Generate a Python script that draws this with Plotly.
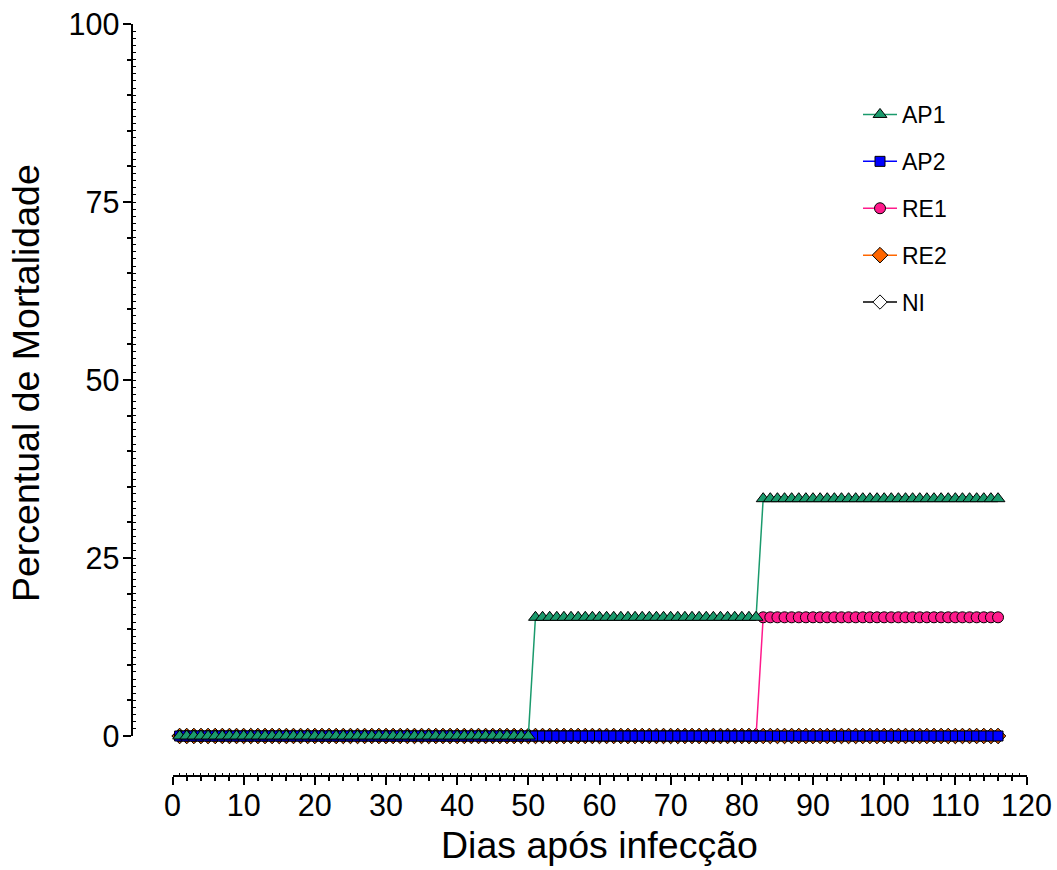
import plotly.graph_objects as go

# ---------------- data ----------------
days = list(range(1, 117))

ap1 = [
    0, 0, 0, 0, 0, 0, 0, 0, 0, 0,
    0, 0, 0, 0, 0, 0, 0, 0, 0, 0,
    0, 0, 0, 0, 0, 0, 0, 0, 0, 0,
    0, 0, 0, 0, 0, 0, 0, 0, 0, 0,
    0, 0, 0, 0, 0, 0, 0, 0, 0, 0,
    16.67, 16.67, 16.67, 16.67, 16.67, 16.67, 16.67, 16.67, 16.67, 16.67,
    16.67, 16.67, 16.67, 16.67, 16.67, 16.67, 16.67, 16.67, 16.67, 16.67,
    16.67, 16.67, 16.67, 16.67, 16.67, 16.67, 16.67, 16.67, 16.67, 16.67,
    16.67, 16.67,
    33.33, 33.33, 33.33, 33.33, 33.33, 33.33, 33.33, 33.33, 33.33, 33.33,
    33.33, 33.33, 33.33, 33.33, 33.33, 33.33, 33.33, 33.33, 33.33, 33.33,
    33.33, 33.33, 33.33, 33.33, 33.33, 33.33, 33.33, 33.33, 33.33, 33.33,
    33.33, 33.33, 33.33, 33.33,
]

ap2 = [
    0, 0, 0, 0, 0, 0, 0, 0, 0, 0,
    0, 0, 0, 0, 0, 0, 0, 0, 0, 0,
    0, 0, 0, 0, 0, 0, 0, 0, 0, 0,
    0, 0, 0, 0, 0, 0, 0, 0, 0, 0,
    0, 0, 0, 0, 0, 0, 0, 0, 0, 0,
    0, 0, 0, 0, 0, 0, 0, 0, 0, 0,
    0, 0, 0, 0, 0, 0, 0, 0, 0, 0,
    0, 0, 0, 0, 0, 0, 0, 0, 0, 0,
    0, 0, 0, 0, 0, 0, 0, 0, 0, 0,
    0, 0, 0, 0, 0, 0, 0, 0, 0, 0,
    0, 0, 0, 0, 0, 0, 0, 0, 0, 0,
    0, 0, 0, 0, 0, 0,
]

re1 = [
    0, 0, 0, 0, 0, 0, 0, 0, 0, 0,
    0, 0, 0, 0, 0, 0, 0, 0, 0, 0,
    0, 0, 0, 0, 0, 0, 0, 0, 0, 0,
    0, 0, 0, 0, 0, 0, 0, 0, 0, 0,
    0, 0, 0, 0, 0, 0, 0, 0, 0, 0,
    0, 0, 0, 0, 0, 0, 0, 0, 0, 0,
    0, 0, 0, 0, 0, 0, 0, 0, 0, 0,
    0, 0, 0, 0, 0, 0, 0, 0, 0, 0,
    0, 0,
    16.67, 16.67, 16.67, 16.67, 16.67, 16.67, 16.67, 16.67, 16.67, 16.67,
    16.67, 16.67, 16.67, 16.67, 16.67, 16.67, 16.67, 16.67, 16.67, 16.67,
    16.67, 16.67, 16.67, 16.67, 16.67, 16.67, 16.67, 16.67, 16.67, 16.67,
    16.67, 16.67, 16.67, 16.67,
]

re2 = [
    0, 0, 0, 0, 0, 0, 0, 0, 0, 0,
    0, 0, 0, 0, 0, 0, 0, 0, 0, 0,
    0, 0, 0, 0, 0, 0, 0, 0, 0, 0,
    0, 0, 0, 0, 0, 0, 0, 0, 0, 0,
    0, 0, 0, 0, 0, 0, 0, 0, 0, 0,
    0, 0, 0, 0, 0, 0, 0, 0, 0, 0,
    0, 0, 0, 0, 0, 0, 0, 0, 0, 0,
    0, 0, 0, 0, 0, 0, 0, 0, 0, 0,
    0, 0, 0, 0, 0, 0, 0, 0, 0, 0,
    0, 0, 0, 0, 0, 0, 0, 0, 0, 0,
    0, 0, 0, 0, 0, 0, 0, 0, 0, 0,
    0, 0, 0, 0, 0, 0,
]

ni = [
    0, 0, 0, 0, 0, 0, 0, 0, 0, 0,
    0, 0, 0, 0, 0, 0, 0, 0, 0, 0,
    0, 0, 0, 0, 0, 0, 0, 0, 0, 0,
    0, 0, 0, 0, 0, 0, 0, 0, 0, 0,
    0, 0, 0, 0, 0, 0, 0, 0, 0, 0,
    0, 0, 0, 0, 0, 0, 0, 0, 0, 0,
    0, 0, 0, 0, 0, 0, 0, 0, 0, 0,
    0, 0, 0, 0, 0, 0, 0, 0, 0, 0,
    0, 0, 0, 0, 0, 0, 0, 0, 0, 0,
    0, 0, 0, 0, 0, 0, 0, 0, 0, 0,
    0, 0, 0, 0, 0, 0, 0, 0, 0, 0,
    0, 0, 0, 0, 0, 0,
]

x_title = "Dias após infecção"
y_title = "Percentual de Mortalidade"

# ---------------- figure ----------------
FONT = "Liberation Sans, Arial, Helvetica, sans-serif"
OFF = 0                      # body margin is removed by the post script
W, H = 1057, 870


def px_x(p):                 # page pixel -> paper fraction (x)
    return (p - OFF) / W


def px_y(p):                 # page pixel -> paper fraction (y)
    return 1 - (p - OFF) / H


series = [  # drawn bottom -> top; rank = legend position
    dict(name="NI", y=ni, symbol="diamond", fill="#ffffff", line="#000000", size=11, rank=5),
    dict(name="RE2", y=re2, symbol="diamond", fill="#ff6600", line="#ff6600", size=12, rank=4),
    dict(name="RE1", y=re1, symbol="circle", fill="#ff1a8c", line="#ff1a8c", size=11, rank=3),
    dict(name="AP2", y=ap2, symbol="square", fill="#0000ff", line="#0000ff", size=10, rank=2),
    dict(name="AP1", y=ap1, symbol="triangle-up", fill="#1a9a6c", line="#1a9a6c", size=12, rank=1),
]

fig = go.Figure()
for s in series:
    fig.add_trace(go.Scatter(
        x=days, y=s["y"], name=s["name"], mode="lines+markers",
        legendgroup=s["name"], legendrank=s["rank"],
        line=dict(color=s["line"], width=1.5),
        marker=dict(symbol=s["symbol"], color=s["fill"], size=s["size"],
                    line=dict(color="#000000", width=1)),
        cliponaxis=False,
    ))

# invisible helper trace for the fine (inner) tick axes
fig.add_trace(go.Scatter(x=[days[0]], y=[ni[0]], xaxis="x2", yaxis="y2",
                         mode="markers", marker=dict(opacity=0),
                         showlegend=False, hoverinfo="skip"))

x_dom = [px_x(172.5), px_x(1026.5)]
y_dom = [px_y(736), px_y(24)]
x_pos = px_y(776)
y_pos = px_x(131.5)

axis_common = dict(showgrid=False, zeroline=False, showline=True,
                   linecolor="black", linewidth=2, tickcolor="black",
                   ticks="outside", tickwidth=2, ticklen=8, automargin=False,
                   ticklabeloverflow="allow",
                   tickfont=dict(family=FONT, size=30.5, color="black"))

fig.update_layout(
    width=W, height=H,
    margin=dict(l=0, r=0, t=0, b=0, autoexpand=False),
    paper_bgcolor="white", plot_bgcolor="white",
    font=dict(family=FONT, color="black"),
    showlegend=True,
    legend=dict(x=px_x(858), y=px_y(93), xanchor="left", yanchor="top",
                traceorder="grouped", tracegroupgap=14, itemwidth=34,
                font=dict(family=FONT, size=23, color="black"),
                bgcolor="rgba(0,0,0,0)"),
    xaxis=dict(**axis_common, domain=x_dom, range=[0, 120], anchor="free",
               position=x_pos, tick0=0, dtick=10, ticklabelstandoff=-6,
               minor=dict(ticks="outside", dtick=2, tick0=0, ticklen=4,
                          tickwidth=1.5, tickcolor="black")),
    yaxis=dict(**axis_common, domain=y_dom, range=[0, 100], anchor="free",
               position=y_pos, tick0=0, dtick=25, ticklabelstandoff=-3,
               minor=dict(ticks="outside", dtick=5, tick0=0, ticklen=4,
                          tickwidth=1.5, tickcolor="black")),
    xaxis2=dict(overlaying="x", domain=x_dom, range=[0, 120], anchor="free",
                position=x_pos, showgrid=False, zeroline=False, showline=False,
                showticklabels=False, ticks="inside", tick0=0, dtick=1,
                ticklen=3, tickwidth=1, tickcolor="black", automargin=False),
    yaxis2=dict(overlaying="y", domain=y_dom, range=[0, 100], anchor="free",
                position=y_pos, side="left", showgrid=False, zeroline=False,
                showline=False, showticklabels=False, ticks="inside", tick0=0,
                dtick=1, ticklen=3, tickwidth=1, tickcolor="black", automargin=False),
    annotations=[
        dict(text=x_title, xref="paper", yref="paper", x=px_x(599), y=px_y(845),
             xanchor="center", yanchor="middle", showarrow=False,
             font=dict(family=FONT, size=37.5, color="black")),
        dict(text=y_title, xref="paper", yref="paper", x=px_x(25.5), y=px_y(383.5),
             xanchor="center", yanchor="middle", showarrow=False, textangle=-90,
             font=dict(family=FONT, size=37.5, color="black")),
    ],
)

fig.write_html(
    "out.html",
    config={"displayModeBar": False},
    post_script="document.body.style.margin='0';document.body.style.overflow='hidden';",
)
